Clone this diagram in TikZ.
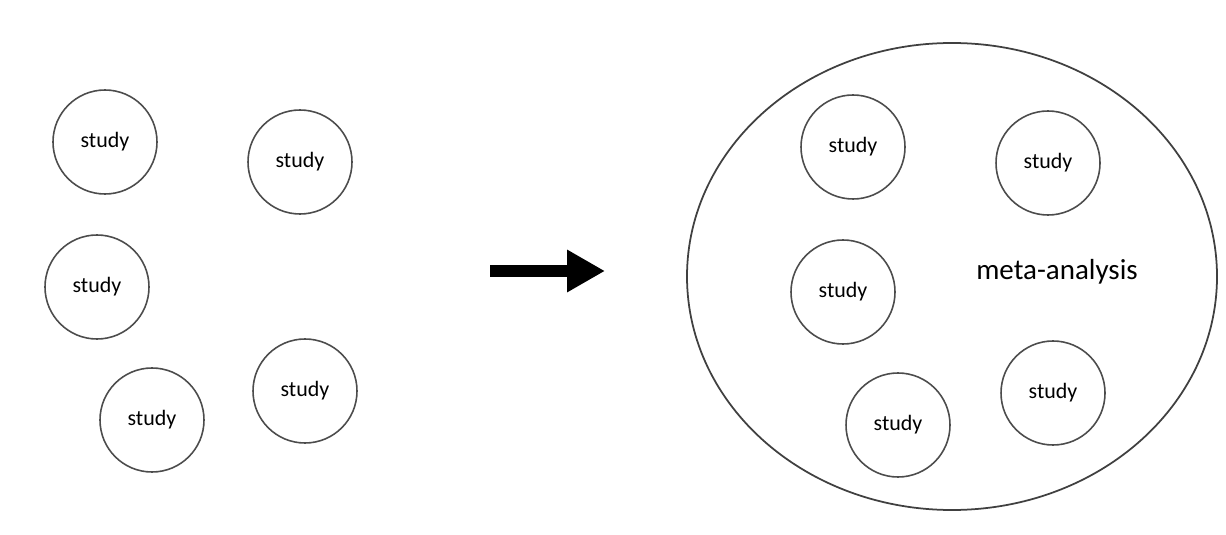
\documentclass[tikz,border=0pt]{standalone}
\usepackage{fontspec}
\setmainfont{Carlito}
\usepackage{tikz}
\usetikzlibrary{arrows.meta, shapes.geometric}

\tikzset{
  studynode/.style={circle, draw=black!70, line width=0.9pt, minimum size=2.08cm, inner sep=0pt, font=\fontsize{12.5}{14}\selectfont},
  metanode/.style={font=\fontsize{16.5}{19}\selectfont, inner sep=0pt}
}

\begin{document}
\begin{tikzpicture}
\useasboundingbox (0,0) rectangle (24.52, 10.68);

% separate studies
\node [studynode] (s1) at (2.10, 7.84) {study};
\node [studynode] (s2) at (6.00, 7.44) {study};
\node [studynode] (s3) at (1.94, 4.94) {study};
\node [studynode] (s4) at (6.10, 2.86) {study};
\node [studynode] (s5) at (3.04, 2.28) {study};

\coordinate (arrowstart) at (9.80, 5.26);
\coordinate (arrowend) at (12.10, 5.26);
\draw [line width=0.25cm, -{Triangle[length=0.76cm, width=0.8cm]}] (arrowstart) -- (arrowend);

% pooled studies
\node [ellipse, draw=black!75, line width=1pt, minimum width=10.6cm, minimum height=9.34cm, inner sep=0pt] (pool) at (19.04, 5.15) {};
\node [metanode] (meta) at (21.14, 5.24) {meta-analysis};

\node [studynode] (p1) at (17.06, 7.74) {study};
\node [studynode] (p2) at (20.96, 7.42) {study};
\node [studynode] (p3) at (16.86, 4.84) {study};
\node [studynode] (p4) at (21.06, 2.82) {study};
\node [studynode] (p5) at (17.96, 2.18) {study};

\end{tikzpicture}
\end{document}
